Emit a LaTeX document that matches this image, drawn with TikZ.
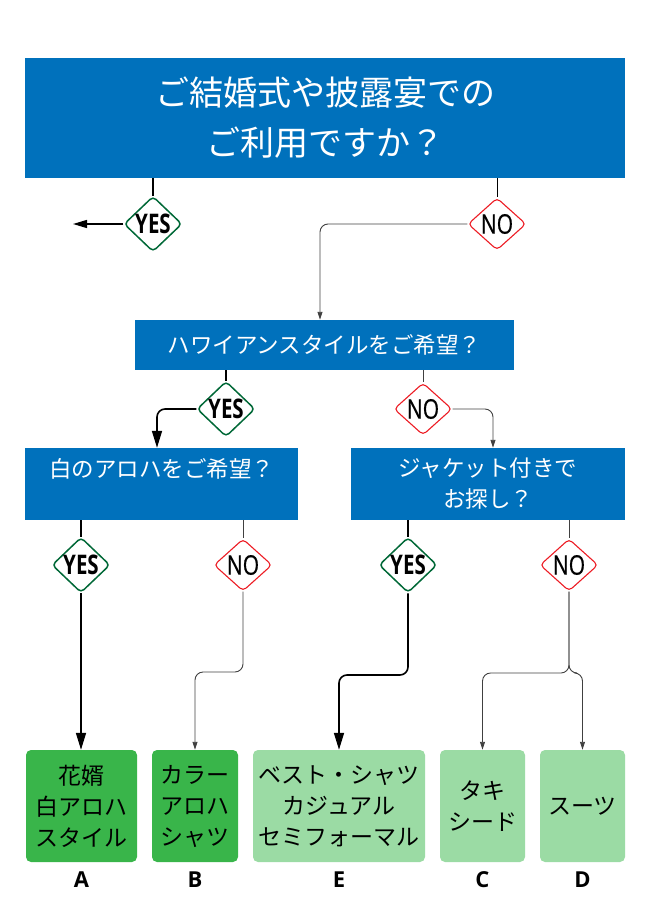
\documentclass[tikz,border=0pt]{standalone}
\usepackage{fontspec}
\setmainfont{Noto Sans CJK JP}
\newfontfamily\ynfont[FakeStretch=0.76]{Open Sans}
\newfontfamily\nofont[FakeStretch=0.78,FakeBold=0.6]{Open Sans}
\newfontfamily\tagfont{Open Sans}
\usetikzlibrary{arrows.meta}
\usetikzlibrary{shapes}
\definecolor{qblue}{RGB}{0,113,188}
\definecolor{ansdark}{RGB}{57,181,74}
\definecolor{anslight}{RGB}{155,219,164}
\definecolor{yesgreen}{RGB}{0,104,55}
\definecolor{nored}{RGB}{237,28,36}
\newcommand{\yestext}[0]{YES}
\newcommand{\notext}[0]{NO}
\tikzset{
qbox/.style={
  align=center,
  fill=qblue,
  text=white,
  inner sep=0pt
  }
}
\tikzset{
yesd/.style={
  diamond,
  draw=yesgreen,
  line width=1.5pt,
  fill=white,
  rounded corners=4pt,
  inner sep=0pt,
  minimum width=58pt,
  minimum height=52pt,
  font=\ynfont\bfseries\fontsize{27}{27}\selectfont
  },
nod/.style={
  yesd,
  draw=nored,
  line width=1.1pt,
  font=\nofont\fontsize{27}{27}\selectfont
  }
}
\tikzset{
ans/.style={
  align=center,
  rounded corners=5pt,
  inner sep=0pt,
  minimum height=112pt,
  font=\fontsize{23}{31}\selectfont
  },
tag/.style={
  font=\tagfont\bfseries\fontsize{22}{22}\selectfont
  }
}
\tikzstyle{yesedge} = [draw,line width=1.6pt,black]
\tikzstyle{noedge} = [draw,line width=0.9pt,black!75]
\tikzset{%
    boundingBox/.style={use as bounding box},
    }

\begin{document}
\begin{tikzpicture}[x=1pt, y=-1pt]
        \path[boundingBox] (0,0) rectangle (650,920);
	\pgfdeclarelayer{background}
	\pgfsetlayers{background,main}

	\begin{pgfonlayer}{main}
		%questions
		\node (q1) at (325,118) [qbox, minimum width=600pt, minimum height=120pt, font=\fontsize{34}{50}\selectfont] {\raisebox{-4pt}{ご結婚式や披露宴での}\\\raisebox{-4pt}{ご利用ですか？}};
		\node (q2) at (324.5,345) [qbox, minimum width=379pt, minimum height=50pt, font=\fontsize{22.5}{26}\selectfont] {ハワイアンスタイルをご希望？};
		\node (q3a) at (161.5,484) [qbox, minimum width=273pt, minimum height=72pt, font=\fontsize{22.5}{31}\selectfont] {白のアロハをご希望？\\\phantom{あ}};
		\node (q3b) at (488,484) [qbox, minimum width=274pt, minimum height=72pt, font=\fontsize{22.5}{31}\selectfont] {ジャケット付きで\\お探し？};

		%yes / no
		\node (yes1) at (153,224) [yesd] {\yestext};
		\node (no1) at (497,224) [nod] {\notext};
		\node (yes2) at (226,409) [yesd] {\yestext};
		\node (no2) at (423,409) [nod] {\notext};
		\node (yes3) at (81,565) [yesd] {\yestext};
		\node (no3) at (243,565) [nod] {\notext};
		\node (yes4) at (408,565) [yesd] {\yestext};
		\node (no4) at (569,565) [nod] {\notext};

		%answers
		\node (ansA) at (81.5,806) [ans, fill=ansdark, minimum width=111pt] {花婿\\白アロハ\\スタイル};
		\node (ansB) at (195,806) [ans, fill=ansdark, minimum width=86pt] {カラー\\アロハ\\シャツ};
		\node (ansE) at (339,806) [ans, fill=anslight, minimum width=172pt] {ベスト・シャツ\\カジュアル\\セミフォーマル};
		\node (ansC) at (482.5,806) [ans, fill=anslight, minimum width=85pt] {タキ\\シード};
		\node (ansD) at (582.5,806) [ans, fill=anslight, minimum width=85pt] {スーツ};

		\node (tagA) at (81.5,880) [tag] {A};
		\node (tagB) at (195,880) [tag] {B};
		\node (tagE) at (339,880) [tag] {E};
		\node (tagC) at (482.5,880) [tag] {C};
		\node (tagD) at (582.5,880) [tag] {D};

		\coordinate (back) at (73,224);
		\coordinate (kB) at (243,672);
		\coordinate (kE) at (408,675);
		\coordinate (kCD) at (569,673);
	\end{pgfonlayer}

	\begin{pgfonlayer}{background}
		%edges
		\draw[yesedge] (yes1.north |- q1.south) -- (yes1.north);
		\draw[yesedge, line width=1.3pt, -{Triangle[width=8pt,length=14pt]}] (yes1.west) -- (back);
		\draw[noedge, black] (no1.north |- q1.south) -- (no1.north);
		\draw[noedge, rounded corners=8pt, -{Triangle[width=5pt,length=8pt]}] (no1.west) -| ([xshift=-4.5pt]q2.north);

		\draw[yesedge] (yes2.north |- q2.south) -- (yes2.north);
		\draw[yesedge, rounded corners=8pt, -{Triangle[width=10pt,length=17pt]}] (yes2.west) -| ([xshift=-4.5pt]q3a.north);
		\draw[noedge] (no2.north |- q2.south) -- (no2.north);
		\draw[noedge, rounded corners=8pt, -{Triangle[width=5pt,length=8pt]}] (no2.east) -| ([xshift=5pt]q3b.north);

		\draw[yesedge] (yes3.north |- q3a.south) -- (yes3.north);
		\draw[yesedge, -{Triangle[width=10pt,length=17pt]}] (yes3.south) -- (yes3.south |- ansA.north);
		\draw[noedge] (no3.north |- q3a.south) -- (no3.north);
		\draw[noedge, rounded corners=8pt, -{Triangle[width=5pt,length=8pt]}] (no3.south) -- (kB) -| (ansB.north);

		\draw[yesedge] (yes4.north |- q3b.south) -- (yes4.north);
		\draw[yesedge, rounded corners=8pt, -{Triangle[width=10pt,length=17pt]}] (yes4.south) -- (kE) -| (ansE.north);
		\draw[noedge] (no4.north |- q3b.south) -- (no4.north);
		\draw[noedge, rounded corners=8pt, -{Triangle[width=5pt,length=8pt]}] (no4.south) -- (kCD) -| (ansC.north);
		\draw[noedge, rounded corners=8pt, -{Triangle[width=5pt,length=8pt]}] (no4.south) -- (kCD) -| (ansD.north);
	\end{pgfonlayer}
\end{tikzpicture}
\end{document}
